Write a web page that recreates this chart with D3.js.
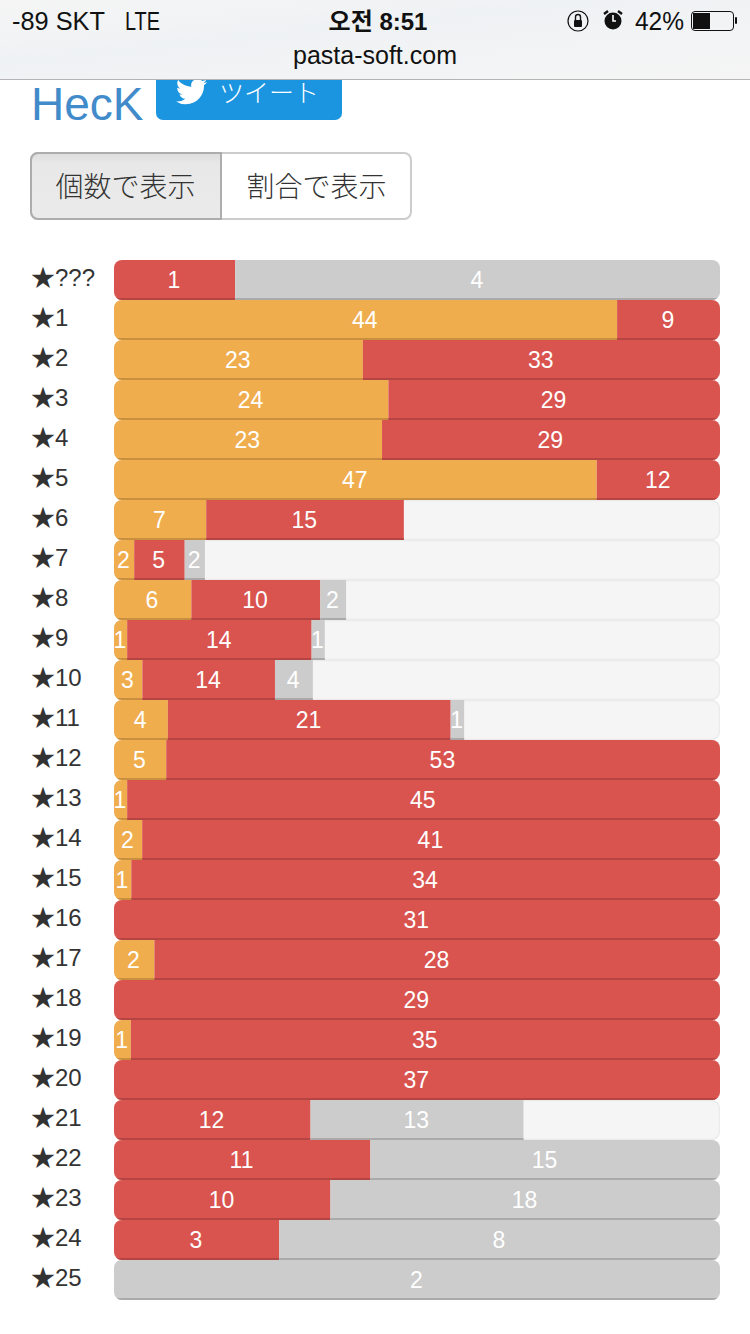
<!DOCTYPE html>
<html><head><meta charset="utf-8">
<script src="https://cdn.jsdelivr.net/npm/d3@7"></script>
<style>html,body{margin:0;padding:0;background:#fff}svg{display:block}</style>
</head><body><div id="c"></div>
<script>
const levels=["★???","★1","★2","★3","★4","★5","★6","★7","★8","★9","★10","★11","★12","★13","★14","★15","★16","★17","★18","★19","★20","★21","★22","★23","★24","★25"];
const orange=[0,44,23,24,23,47,7,2,6,1,3,4,5,1,2,1,0,2,0,1,0,0,0,0,0,0];
const red=[1,9,33,29,29,12,15,5,10,14,14,21,53,45,41,34,31,28,29,35,37,12,11,10,3,0];
const gray=[4,0,0,0,0,0,0,2,2,1,4,1,0,0,0,0,0,0,0,0,0,13,15,18,8,2];
const blank=[0,0,0,0,0,0,24,51,29,30,43,19,0,0,0,0,0,0,0,0,0,12,0,0,0,0];
const buttons=["個数で表示","割合で表示"];

const W=750,H=1334;
const sans="'Liberation Sans',Arial,sans-serif";
const cjk="'Liberation Sans','Noto Sans CJK JP',sans-serif";
const svg=d3.select("#c").append("svg").attr("width",W).attr("height",H).attr("viewBox",[0,0,W,H]);
const defs=svg.append("defs");

// title + tweet button (slides under the header)
svg.append("text").attr("x",31).attr("y",120).attr("font-family",sans).attr("font-size",46).attr("fill","#428bca").text("HecK");
svg.append("rect").attr("x",156).attr("y",50).attr("width",186).attr("height",70).attr("rx",7).attr("fill","#1b95e0");
svg.append("path").attr("transform","translate(176,76) scale(1.3)").attr("fill","#fff")
 .attr("d","M23.953 4.57a10 10 0 01-2.825.775 4.958 4.958 0 002.163-2.723c-.951.555-2.005.959-3.127 1.184a4.92 4.92 0 00-8.384 4.482C7.69 8.095 4.067 6.13 1.64 3.162a4.822 4.822 0 00-.666 2.475c0 1.71.87 3.213 2.188 4.096a4.904 4.904 0 01-2.228-.616v.06a4.923 4.923 0 003.946 4.827 4.996 4.996 0 01-2.212.085 4.936 4.936 0 004.604 3.417 9.867 9.867 0 01-6.102 2.105c-.39 0-.779-.023-1.17-.067a13.995 13.995 0 007.557 2.209c9.053 0 13.998-7.496 13.998-13.985 0-.21 0-.42-.015-.63A9.935 9.935 0 0024 4.59z");
svg.append("text").attr("x",219).attr("y",102).attr("font-family","'Noto Sans CJK JP',sans-serif").attr("font-weight",300).attr("font-size",25).attr("fill","#fff").text("ツイート");

// header
const hg=defs.append("linearGradient").attr("id","hdr").attr("x1",0).attr("x2",1).attr("y1",0).attr("y2",1);
hg.append("stop").attr("offset","0%").attr("stop-color","#f5f5f5");
hg.append("stop").attr("offset","40%").attr("stop-color","#eff2f4");
hg.append("stop").attr("offset","100%").attr("stop-color","#f5f5f5");
svg.append("rect").attr("width",W).attr("height",79).attr("fill","url(#hdr)");
svg.append("rect").attr("y",79).attr("width",W).attr("height",1).attr("fill","#b4b4b4");
const hdrText=(x,y,t,anchor,size,weight,fam,len)=>{
 const s=svg.append("text").attr("x",x).attr("y",y).attr("text-anchor",anchor||"start")
 .attr("font-family",fam||sans).attr("font-size",size||24).attr("font-weight",weight||400).attr("fill","#111").text(t);
 if(len) s.attr("textLength",len).attr("lengthAdjust","spacingAndGlyphs");
};
hdrText(12,30,"-89 SKT","start",25,400,sans,93);
hdrText(125,30,"LTE","start",25,400,sans,35);
hdrText(378,30,"오전 8:51","middle",24,700,"'Liberation Sans','Noto Sans CJK KR',sans-serif");
hdrText(635,30,"42%","start",25,400,sans,49);
hdrText(375,64,"pasta-soft.com","middle",25);
// status icons
svg.append("circle").attr("cx",578).attr("cy",21).attr("r",10).attr("fill","none").attr("stroke","#111").attr("stroke-width",1.2);
svg.append("rect").attr("x",574).attr("y",20).attr("width",8).attr("height",7).attr("rx",1).attr("fill","#111");
svg.append("path").attr("d","M575.5 20v-3a2.5 2.5 0 015 0v3").attr("fill","none").attr("stroke","#111").attr("stroke-width",1.4);
svg.append("circle").attr("cx",613).attr("cy",21).attr("r",8.5).attr("fill","#111");
svg.append("path").attr("d","M613 15v6h3").attr("fill","none").attr("stroke","#fff").attr("stroke-width",1.6);
svg.append("path").attr("d","M604 14l4-3M622 14l-4-3").attr("fill","none").attr("stroke","#111").attr("stroke-width",2.4);
svg.append("rect").attr("x",691.5).attr("y",16.5).attr("width",42).attr("height",19).attr("rx",3.5).attr("fill","none").attr("stroke","#111").attr("stroke-width",1).attr("transform","translate(0,-5)");
svg.append("rect").attr("x",693).attr("y",13).attr("width",17).attr("height",16).attr("fill","#111");
svg.append("rect").attr("x",735).attr("y",17).attr("width",2).attr("height",7).attr("rx",1).attr("fill","#111");

// toggle buttons
const bx=d3.scaleBand().domain(buttons).range([30,412]);
defs.append("clipPath").attr("id","btnClip").append("rect").attr("x",30).attr("y",152).attr("width",382).attr("height",68).attr("rx",8);
const bsh=defs.append("linearGradient").attr("id","bsh").attr("x1",0).attr("x2",0).attr("y1",0).attr("y2",1);
bsh.append("stop").attr("offset","0%").attr("stop-color","#dcdcdc");
bsh.append("stop").attr("offset","18%").attr("stop-color","#e8e8e8");
bsh.append("stop").attr("offset","100%").attr("stop-color","#ebebeb");
const bg=svg.append("g").attr("clip-path","url(#btnClip)");
bg.append("rect").attr("x",30).attr("y",152).attr("width",382).attr("height",68).attr("fill","#fff");
bg.append("rect").attr("x",30).attr("y",152).attr("width",191).attr("height",68).attr("fill","url(#bsh)");
svg.append("rect").attr("x",31).attr("y",153).attr("width",380).attr("height",66).attr("rx",7).attr("fill","none").attr("stroke","#ccc").attr("stroke-width",2);
svg.append("path").attr("d","M38 153H221V219H38a7 7 0 01-7-7V160a7 7 0 017-7").attr("fill","none").attr("stroke","#adadad").attr("stroke-width",2);
svg.selectAll(".btn").data(buttons).join("text").attr("class","btn")
 .attr("x",d=>bx(d)+bx.bandwidth()/2).attr("y",197).attr("text-anchor","middle")
 .attr("font-family","'Noto Sans CJK JP',sans-serif").attr("font-weight",300).attr("font-size",28).attr("fill","#333").text(d=>d);

// chart
const y=d3.scaleBand().domain(levels).range([260,1300]);
const rows=levels.map((l,i)=>({l,i,parts:[
 {k:"o",v:orange[i],c:"#f0ad4e",s:"#c88f3f"},
 {k:"r",v:red[i],c:"#d9534f",s:"#b54542"},
 {k:"g",v:gray[i],c:"#cccccc",s:"#aaaaaa"}],blank:blank[i]}));
const X0=114,X1=720;
const row=svg.selectAll(".row").data(rows).join("g").attr("class","row");
row.each(function(d){
 const g=d3.select(this),top=y(d.l),h=y.bandwidth();
 const total=d3.sum(d.parts,p=>p.v)+d.blank;
 const x=d3.scaleLinear().domain([0,total]).range([X0,X1]);
 const id="rc"+d.i;
 defs.append("clipPath").attr("id",id).append("rect").attr("x",X0).attr("y",top).attr("width",X1-X0).attr("height",h).attr("rx",8);
 g.append("text").attr("x",31).attr("y",top+26).attr("font-family",cjk).attr("font-size",24).attr("fill","#333").text(d.l);
 const inner=g.append("g").attr("clip-path",`url(#${id})`);
 inner.append("rect").attr("x",X0).attr("y",top).attr("width",X1-X0).attr("height",h).attr("fill","#f5f5f5");
 if(d.blank>0){
  inner.append("rect").attr("x",X0+.5).attr("y",top+.5).attr("width",X1-X0-1).attr("height",h-1).attr("rx",8).attr("fill","none").attr("stroke","#ebebeb").attr("stroke-width",1.5);
 }
 let acc=0;
 d.parts.forEach(p=>{
  if(!p.v) return;
  const a=x(acc),b=x(acc+p.v);acc+=p.v;
  inner.append("rect").attr("x",a).attr("y",top).attr("width",b-a).attr("height",h).attr("fill",p.c);
  inner.append("rect").attr("x",a).attr("y",top+h-2).attr("width",b-a).attr("height",2).attr("fill",p.s);
  p.cx=(a+b)/2;
 });
 d.parts.filter(p=>p.v).forEach(p=>{
  g.append("text").attr("x",p.cx-.7).attr("y",top+28).attr("text-anchor","middle").attr("font-family",sans)
   .attr("font-size",23).attr("fill","#fff").text(p.v);
 });
});
</script></body></html>
